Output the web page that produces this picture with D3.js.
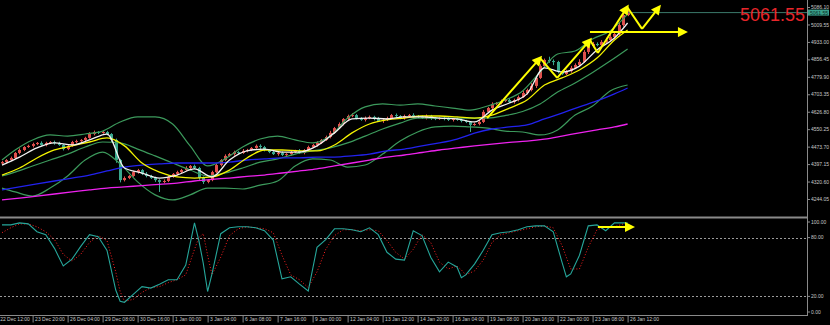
<!DOCTYPE html>
<html><head><meta charset="utf-8">
<script src="https://cdn.jsdelivr.net/npm/d3@7"></script>
<style>html,body{margin:0;padding:0;background:#000;overflow:hidden}svg{display:block}</style>
</head><body>
<svg id="c" width="830" height="325"></svg>
<script>
// ---------- DATA (H4 candles, price) ----------
const firstOpen = 4400;
const closes = [4406,4415,4424,4446,4459,4472,4477,4485,4490,4481,
4490,4494,4490,4481,4463,4477,4494,4498,4503,4512,
4529,4538,4534,4538,4529,4503,4415,4327,4336,4345,
4362,4371,4354,4345,4336,4327,4319,4323,4341,4354,
4362,4371,4380,4389,4380,4336,4319,4327,4362,4393,
4415,4433,4441,4450,4446,4455,4459,4468,4477,4472,
4459,4450,4441,4446,4437,4441,4450,4455,4446,4459,
4472,4481,4490,4503,4516,4534,4555,4573,4595,4608,
4612,4599,4591,4599,4604,4595,4586,4591,4599,4612,
4608,4599,4608,4612,4608,4604,4599,4608,4599,4595,
4599,4595,4591,4595,4591,4586,4582,4569,4573,4582,
4626,4643,4661,4665,4674,4678,4670,4678,4691,4709,
4722,4740,4775,4827,4854,4849,4845,4801,4792,4805,
4819,4832,4845,4889,4915,4924,4919,4933,4941,4955,
4968,5007,5051,5061.55];
const wickUp = [5,4,6,4,7,4,5,6,4,7, 5,4,6,5,4,7,5,6,4,5, 8,6,4,7,5,4,6,5,7,4, 6,5,4,8,5,6,4,7,5,4,
6,5,8,4,6,5,7,4,6,5, 4,7,5,6,4,8,5,4,6,7, 5,4,6,5,7,4,6,5,8,4, 6,5,7,4,6,9,5,7,4,6,
8,5,4,7,6,5,9,4,6,5, 7,4,6,5,8,4,6,7,5,4, 6,5,8,4,6,7,5,4,6,9, 8,5,7,4,6,5,8,6,7,9,
6,12,10,8,6,14,7,5,8,6, 9,7,12,8,6,9,7,8,10,12, 8,14,18,16];
const wickDn = [4,6,5,4,6,5,4,7,5,4, 6,5,8,4,6,5,4,6,7,5, 4,6,5,4,6,9,12,10,6,5, 4,7,5,6,4,8,44,6,5,4,
7,5,4,6,5,8,9,6,5,4, 6,5,4,7,5,4,6,5,4,8, 6,5,4,7,5,4,6,5,4,6, 5,4,7,5,4,6,5,4,6,8,
5,6,4,7,5,6,4,8,5,4, 6,5,7,4,6,5,4,6,8,5, 4,6,5,7,4,6,5,31,4,6, 5,4,7,5,6,4,5,8,6,4,
7,6,9,5,6,8,14,6,5,4, 7,5,6,4,9,6,5,7,6,5, 8,6,7,5];

// moving averages sampled every 4 bars (bar index)
const maIdx = [0,4,8,12,16,20,24,28,32,36,40,44,48,52,56,60,64,68,72,76,80,84,88,92,96,100,104,108,112,116,120,124,128,132,136,140,143];
const whiteMA = [4393,4428,4468,4490,4481,4503,4529,4380,4358,4336,4349,4376,4341,4415,4455,4463,4450,4450,4477,4534,4595,4599,4595,4604,4604,4599,4595,4582,4634,4665,4705,4819,4801,4827,4898,4950,5016];
const yellowMA = [4349,4380,4424,4459,4477,4494,4512,4477,4402,4362,4341,4336,4341,4371,4424,4459,4459,4455,4455,4481,4534,4573,4591,4599,4608,4608,4604,4599,4612,4643,4678,4744,4775,4810,4862,4941,4985];
const blueMA = [4284,4297,4310,4323,4336,4349,4367,4384,4393,4398,4402,4402,4402,4406,4415,4420,4424,4424,4428,4428,4433,4441,4455,4463,4477,4490,4507,4533,4551,4560,4569,4595,4621,4648,4674,4705,4731];
const magentaMA = [4240,4248,4257,4266,4275,4284,4292,4297,4303,4308,4314,4323,4330,4336,4343,4349,4358,4367,4376,4389,4402,4415,4428,4437,4448,4459,4468,4477,4485,4492,4498,4507,4520,4534,4547,4560,4573];

// Bollinger bands sampled
const bbIdx = [0,3,7,11,15,19,23,27,31,35,39,43,47,51,55,59,63,67,71,75,79,83,87,91,95,99,103,107,111,115,119,123,127,131,135,139,143];
const bbUpper = [4415,4459,4503,4525,4520,4529,4542,4582,4604,4604,4573,4477,4389,4420,4472,4507,4520,4503,4490,4520,4599,4648,4661,4656,4661,4652,4643,4634,4652,4678,4718,4801,4880,4893,4946,4981,5055];
const bbMid = [4345,4362,4389,4415,4441,4472,4494,4490,4463,4433,4402,4371,4345,4358,4380,4406,4420,4441,4455,4468,4490,4520,4551,4577,4599,4599,4599,4599,4599,4610,4628,4661,4713,4753,4799,4849,4902];
const bbLower = [4292,4275,4257,4292,4345,4415,4450,4398,4319,4262,4240,4262,4292,4292,4288,4305,4323,4389,4420,4415,4384,4393,4441,4498,4538,4560,4564,4560,4555,4542,4538,4525,4547,4612,4652,4718,4744];

// Stochastic
const stochIdx = [0,2,4,6,8,10,12,14,16,18,20,22,24,26,27,28,30,32,34,36,38,40,42,44,45,46,47,48,50,52,54,56,58,60,62,64,66,68,70,72,74,76,78,80,82,84,86,88,90,92,94,96,98,100,102,104,105,106,108,110,112,114,116,118,120,122,124,126,128,129,130,132,134,136,138,140,142,143];
const stochK = [93,93,95,94,86,83,69,51,58,71,83,81,67,26.5,15,14,22,30,28.5,32.5,37,37,52,95,77,54,25,43,84,90,91,91,90,87,77.5,38,40,32.5,25.5,70,78,89,89,88,86,90,83,65,58,57,87,82,60,45,55,50,39,42,53,67,83,85,86,88,91,92,92,86,55,40,43,62,92,93,87,95,95,95];
const stochD = [85,90,94,94,91,86,78,63,56,63,75,82,77,45,25,15,17,24,29,30,34,37,42,68,80,84,62,42,60,82,89,91,90,89,85,62,42,37,29,45,68,82,88,88,87,88,87,77,65,58,68,83,75,55,48,51,47,42,46,57,75,83,85,87,89,91,92,90,72,60,48,48,70,88,91,91,94,95];
const stochLevels = [80,20];
const stochTicks = [100,80,20,0];

// axes
const priceTicks = [5086.10,5009.55,4933.00,4856.45,4779.90,4703.35,4626.80,4550.25,4473.70,4397.15,4320.60,4244.05];
const lastPrice = 5061.55;
const timeTickIdx = [-1,7,15,23,31,39,47,55,63,71,79,87,95,103,111,119,127,135,143];
const timeLabels = ["22 Dec 12:00","23 Dec 20:00","26 Dec 04:00","29 Dec 08:00","30 Dec 16:00","1 Jan 00:00","3 Jan 04:00","6 Jan 08:00","7 Jan 16:00","9 Jan 00:00","12 Jan 04:00","13 Jan 12:00","14 Jan 20:00","16 Jan 04:00","19 Jan 08:00","20 Jan 16:00","22 Jan 00:00","23 Jan 08:00","26 Jan 12:00"];

// hand-drawn arrows (bar index, price)
const zigIdx   = [110.9, 123.0, 126.9, 134.4, 136.2, 142.9, 146.3, 150.2];
const zigPrice = [4599, 4862, 4775, 4941, 4884, 5086, 4990, 5086];
const zigHead  = [true, false, true, false, true, false, true];
const hArrowIdx = [134.4, 156.1];
const hArrowPrice = 4976;
const stArrowIdx = [136.2, 144.0];
const stArrowVal = 90.8;

// ---------- DRAW ----------
const svg = d3.select('#c');
svg.append('rect').attr('width',830).attr('height',325).attr('fill','#000');

const x = d3.scaleLinear().domain([0,143]).range([2,627.6]);
const yP = d3.scaleLinear().domain([4244.05,5086.10]).range([199,7]);
const yS = d3.scaleLinear().domain([0,100]).range([316,218]);

const defs = svg.append('defs');
defs.append('clipPath').attr('id','cpMain').append('rect').attr('x',0).attr('y',0).attr('width',807).attr('height',216);
defs.append('clipPath').attr('id','cpSt').append('rect').attr('x',0).attr('y',219).attr('width',807).attr('height',96);
defs.append('marker').attr('id','ah').attr('viewBox','0 0 10 10').attr('refX',7).attr('refY',5)
  .attr('markerWidth',5.5).attr('markerHeight',5).attr('orient','auto').attr('markerUnits','strokeWidth')
  .append('path').attr('d','M0,0L10,5L0,10z').attr('fill','#ffff00');

const main = svg.append('g').attr('clip-path','url(#cpMain)');

// candles
const bars = closes.map((c,i)=>{const o=i?closes[i-1]:firstOpen;return {i,o,c,h:Math.max(o,c)+(wickUp[i]||0),l:Math.min(o,c)-(wickDn[i]||0)};});
const upCol='#e0514d', dnCol='#3aa88e';
main.append('g').selectAll('line').data(bars).join('line')
  .attr('x1',d=>Math.round(x(d.i))+0.5).attr('x2',d=>Math.round(x(d.i))+0.5)
  .attr('y1',d=>yP(d.h)).attr('y2',d=>yP(d.l))
  .attr('stroke',d=>d.c>=d.o?upCol:dnCol).attr('stroke-width',1);
main.append('g').selectAll('rect').data(bars).join('rect')
  .attr('x',d=>Math.round(x(d.i))-1).attr('width',3)
  .attr('y',d=>yP(Math.max(d.o,d.c))).attr('height',d=>Math.max(1,Math.abs(yP(d.o)-yP(d.c))))
  .attr('fill',d=>d.c>=d.o?upCol:dnCol);

// indicator lines
const line = d3.line().x(d=>x(d[0])).y(d=>yP(d[1])).curve(d3.curveMonotoneX);
function drawLine(idx, vals, col, w){
  main.append('path').datum(d3.zip(idx,vals)).attr('d',line).attr('fill','none').attr('stroke',col).attr('stroke-width',w);
}
drawLine(bbIdx, bbUpper, '#3c9a5c', 1.2);
drawLine(bbIdx, bbMid, '#3c9a5c', 1.2);
drawLine(bbIdx, bbLower, '#3c9a5c', 1.2);
drawLine(maIdx, magentaMA, '#ee22ee', 1.3);
drawLine(maIdx, blueMA, '#2222ee', 1.3);
drawLine(maIdx, yellowMA, '#f4f400', 1.3);
drawLine(maIdx, whiteMA, '#f2f2f2', 1.3);

// bid line
main.append('line').attr('x1',x(143)).attr('x2',807).attr('y1',yP(lastPrice)).attr('y2',yP(lastPrice))
  .attr('stroke','#3b7a6a').attr('stroke-width',1);

// zigzag arrows
const zp = d3.zip(zigIdx, zigPrice);
for(let k=0;k<zp.length-1;k++){
  const s = svg.append('line').attr('x1',x(zp[k][0])).attr('y1',yP(zp[k][1]))
    .attr('x2',x(zp[k+1][0])).attr('y2',yP(zp[k+1][1]))
    .attr('stroke','#ffff00').attr('stroke-width',2);
  if(zigHead[k]) s.attr('marker-end','url(#ah)');
}
svg.append('line').attr('x1',x(hArrowIdx[0])).attr('x2',x(hArrowIdx[1]))
  .attr('y1',yP(hArrowPrice)).attr('y2',yP(hArrowPrice))
  .attr('stroke','#ffff00').attr('stroke-width',2).attr('marker-end','url(#ah)');

// big price text
svg.append('text').attr('x',805).attr('y',21).attr('text-anchor','end')
  .attr('font-family','Liberation Sans, Arial, sans-serif').attr('font-size',18)
  .attr('fill','#e8262a').text(d3.format('.2f')(lastPrice));

// separator & frame
svg.append('rect').attr('x',0).attr('y',216.5).attr('width',808).attr('height',2).attr('fill','#8a8a8a');
svg.append('line').attr('x1',0).attr('x2',807).attr('y1',315.5).attr('y2',315.5).attr('stroke','#8a8a8a');

// price axis
const pa = svg.append('g').attr('transform','translate(807,0)')
  .call(d3.axisRight(yP).tickValues(priceTicks).tickSize(3).tickPadding(1).tickFormat(d3.format('.2f')));
pa.select('.domain').attr('stroke','#8a8a8a').attr('d','M0.5,0V316');
pa.selectAll('line').attr('stroke','#8a8a8a');
pa.selectAll('text').attr('fill','#c8c8c8').attr('font-size',5).attr('font-family','Liberation Sans, Arial, sans-serif');

// last price box
svg.append('rect').attr('x',808).attr('y',yP(lastPrice)-3).attr('width',21).attr('height',6).attr('fill','#3aa08c');
svg.append('text').attr('x',810).attr('y',yP(lastPrice)+2).attr('font-size',5)
  .attr('font-family','Liberation Sans, Arial, sans-serif').attr('fill','#0a2a22').text(d3.format('.2f')(lastPrice));

// stochastic panel
const st = svg.append('g').attr('clip-path','url(#cpSt)');
st.selectAll('line.lv').data(stochLevels).join('line').attr('class','lv')
  .attr('x1',0).attr('x2',807).attr('y1',d=>Math.round(yS(d))+0.5).attr('y2',d=>Math.round(yS(d))+0.5)
  .attr('stroke','#9a9a9a').attr('stroke-dasharray','2,2');
const sl = d3.line().x(d=>x(d[0])).y(d=>yS(d[1]));
st.append('path').datum(d3.zip(stochIdx,stochD)).attr('d',sl).attr('fill','none')
  .attr('stroke','#ff2020').attr('stroke-width',1).attr('stroke-dasharray','1,2');
st.append('path').datum(d3.zip(stochIdx,stochK)).attr('d',sl).attr('fill','none')
  .attr('stroke','#26a69a').attr('stroke-width',1.1);
svg.append('line').attr('x1',x(stArrowIdx[0])).attr('x2',x(stArrowIdx[1]))
  .attr('y1',yS(stArrowVal)).attr('y2',yS(stArrowVal))
  .attr('stroke','#ffff00').attr('stroke-width',2).attr('marker-end','url(#ah)');

const sa = svg.append('g').attr('transform','translate(807,0)');
sa.selectAll('line').data(stochTicks).join('line').attr('x1',0).attr('x2',3)
  .attr('y1',d=>Math.min(312,Math.max(222,yS(d)))).attr('y2',d=>Math.min(312,Math.max(222,yS(d))))
  .attr('stroke','#8a8a8a');
sa.selectAll('text').data(stochTicks).join('text').attr('x',4)
  .attr('y',d=>Math.min(312,Math.max(222,yS(d)))+1.8)
  .attr('fill','#c8c8c8').attr('font-size',5).attr('font-family','Liberation Sans, Arial, sans-serif')
  .text(d=>d3.format('.2f')(d));

// time axis
const ta = svg.append('g').attr('transform','translate(0,315.5)')
  .call(d3.axisBottom(x).tickValues(timeTickIdx).tickSize(7).tickFormat((d,i)=>timeLabels[i]));
ta.select('.domain').remove();
ta.selectAll('line').attr('stroke','#8a8a8a');
ta.selectAll('text').attr('text-anchor','start').attr('x',2).attr('y',2).attr('dy','0.71em')
  .attr('fill','#c8c8c8').attr('font-size',5).attr('font-family','Liberation Sans, Arial, sans-serif');
</script>
</body></html>
